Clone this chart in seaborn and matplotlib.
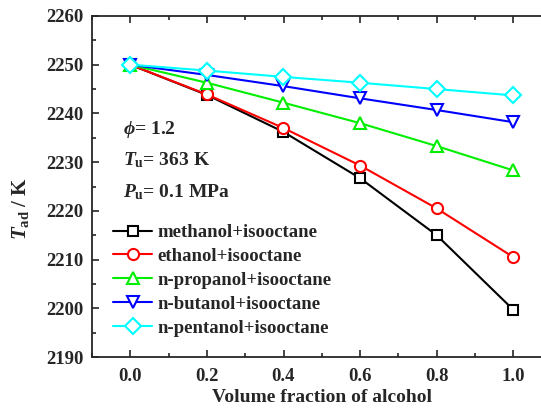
import matplotlib
matplotlib.use("Agg")
import matplotlib.pyplot as plt
import seaborn as sns
import pandas as pd
from matplotlib.ticker import MultipleLocator

x_vals = [0.0, 0.2, 0.4, 0.6, 0.8, 1.0]
methanol = [2250.0, 2243.8, 2236.2, 2226.7, 2215.0, 2199.7]
ethanol = [2250.0, 2243.9, 2237.0, 2229.3, 2220.5, 2210.5]
propanol = [2250.0, 2246.3, 2242.2, 2238.0, 2233.3, 2228.3]
butanol = [2250.0, 2247.9, 2245.6, 2243.1, 2240.7, 2238.2]
pentanol = [2250.0, 2248.8, 2247.5, 2246.3, 2245.0, 2243.7]

labels = ["methanol+isooctane", "ethanol+isooctane", "n-propanol+isooctane",
          "n-butanol+isooctane", "n-pentanol+isooctane"]
series = [methanol, ethanol, propanol, butanol, pentanol]
colors = ["black", "red", "#00ee00", "blue", "cyan"]
markers = ["s", "o", "^", "v", "D"]
msizes = [6.5, 8, 8.5, 8.5, 8]

sns.set_style("ticks")
plt.rcParams["font.family"] = ["Liberation Serif", "DejaVu Serif"]
plt.rcParams["font.weight"] = "bold"
plt.rcParams["mathtext.fontset"] = "custom"
plt.rcParams["mathtext.rm"] = "Liberation Serif:bold"
plt.rcParams["mathtext.it"] = "Liberation Serif:italic:bold"
plt.rcParams["mathtext.bf"] = "Liberation Serif:bold"

fig = plt.figure(figsize=(5.41, 4.09), dpi=100)
ax_w = 1.2 * 383
ax = fig.add_axes([92/541, 1-357/409, ax_w/541, (357-16)/409])

for lab, ys, c, m, ms in zip(labels, series, colors, markers, msizes):
    df = pd.DataFrame({"x": x_vals, "y": ys})
    sns.lineplot(data=df, x="x", y="y", ax=ax, color=c, marker=m, markersize=ms,
                 markerfacecolor="white", markeredgecolor=c, markeredgewidth=1.5,
                 linewidth=1.5, label=lab)

ax.set_xlim(-0.1, 1.1)
ax.set_ylim(2190, 2260)
ax.xaxis.set_major_locator(MultipleLocator(0.2))
ax.xaxis.set_minor_locator(MultipleLocator(0.1))
ax.yaxis.set_major_locator(MultipleLocator(10))
ax.yaxis.set_minor_locator(MultipleLocator(5))
ax.tick_params(which="both", direction="in", top=True, right=True, width=1.2)
ax.tick_params(which="major", length=5, labelsize=13.5)
ax.tick_params(axis="x", which="major", pad=8)
ax.tick_params(axis="y", which="major", pad=6)
ax.tick_params(which="minor", length=3)
ax.xaxis.set_major_formatter(matplotlib.ticker.FormatStrFormatter("%.1f"))
for s in ax.spines.values():
    s.set_linewidth(1.3)

ax.set_xlabel("Volume fraction of alcohol", fontsize=14, fontweight="bold", labelpad=3)
ax.set_ylabel(r"$T_\mathrm{ad}$ / K", fontsize=15, fontweight="bold")
ax.yaxis.set_label_coords((31-92)/ax_w, 1-(208-16)/341)

ax.text(31/ax_w, 0.655, r"$\phi$= 1.2", transform=ax.transAxes, fontsize=14, fontweight="bold")
ax.text(31/ax_w, 0.562, r"$T_\mathrm{u}$= 363 K", transform=ax.transAxes, fontsize=14, fontweight="bold")
ax.text(31/ax_w, 0.469, r"$P_\mathrm{u}$= 0.1 MPa", transform=ax.transAxes, fontsize=14, fontweight="bold")

leg = ax.legend(loc="upper left", bbox_to_anchor=(21/ax_w, 1-(224-16)/341), frameon=False,
                fontsize=13.5, handlelength=2.1, handletextpad=0.25, labelspacing=0.36,
                borderaxespad=0, borderpad=0)

fig.savefig("out.png", dpi=100)
